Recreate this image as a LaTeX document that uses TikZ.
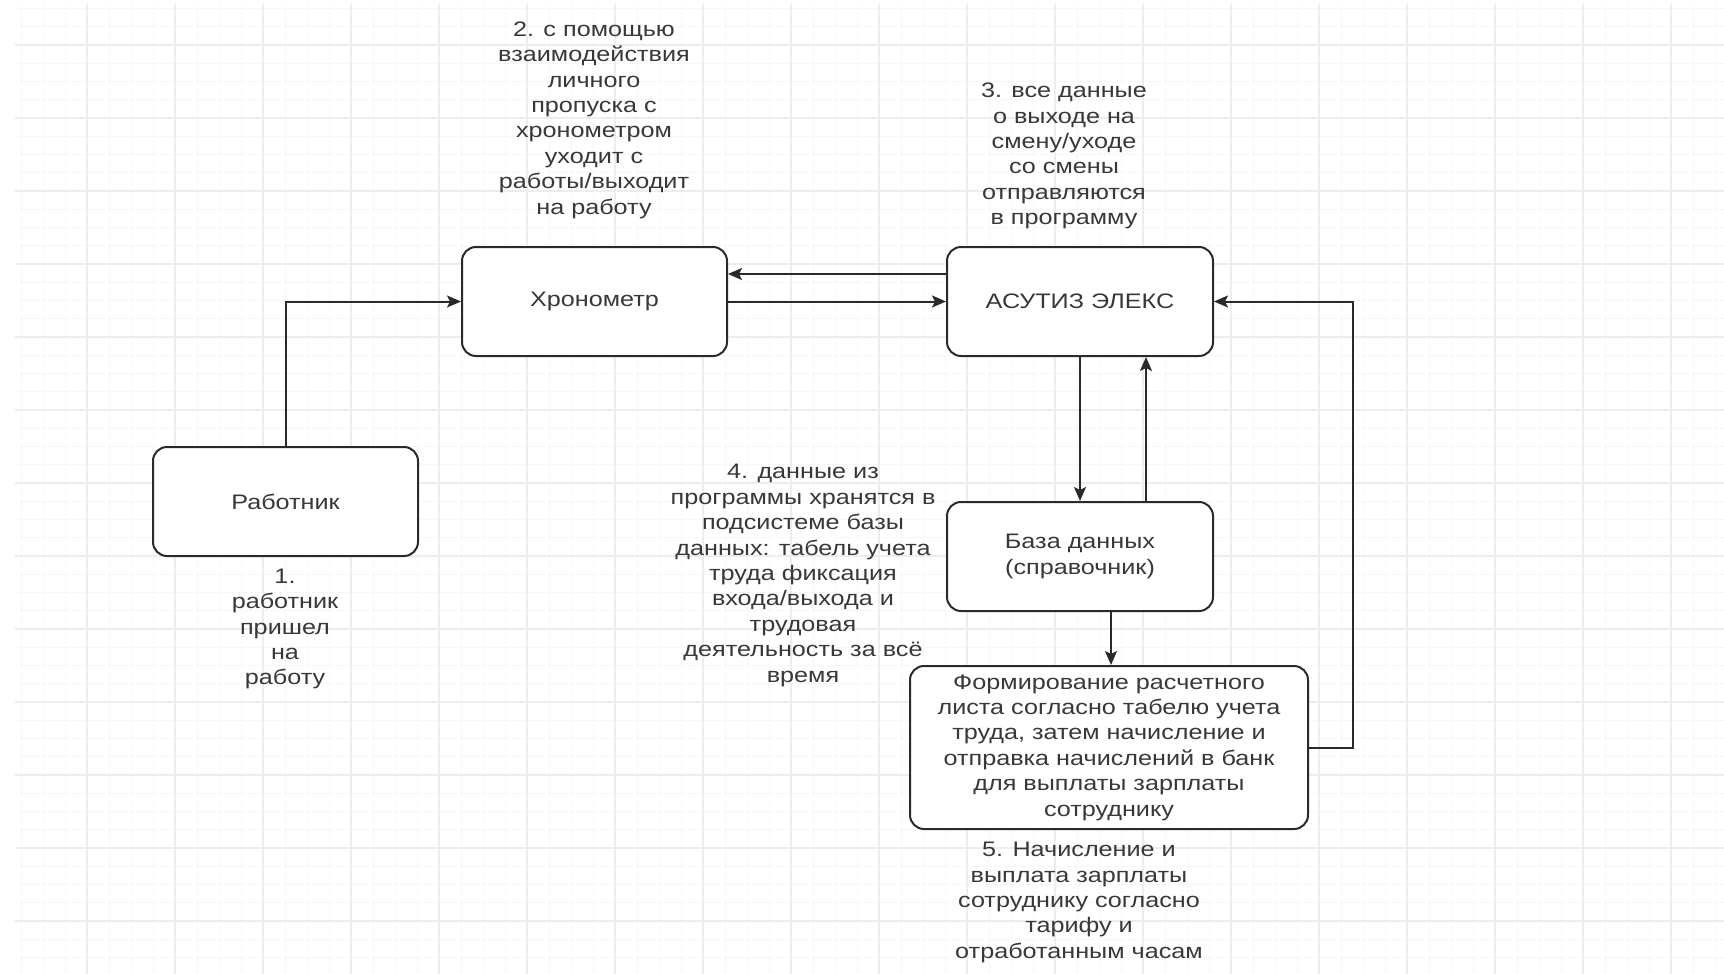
\documentclass[tikz,border=0pt]{standalone}
\usepackage{fontspec}
\setmainfont{Liberation Sans}[FakeStretch=1.2]
\usetikzlibrary{arrows.meta}
\definecolor{txt}{HTML}{383838}
\definecolor{linec}{HTML}{2A2A2A}
\definecolor{gminor}{HTML}{F7F7F7}
\definecolor{gmajor}{HTML}{EDEDED}
\tikzset{
  box/.style={draw=linec, line width=2pt, rounded corners=14pt, fill=white, text=txt, align=center, inner sep=0pt, font=\fs},
  lbl/.style={text=txt, align=center, inner sep=0pt, font=\fs},
  arr/.style={draw=linec, line width=2pt, -{Stealth[length=14pt,width=12pt,inset=3pt]}},
}
\newcommand{\fs}{\fontsize{21pt}{25.4pt}\selectfont}
\begin{document}
\begin{tikzpicture}[x=1pt,y=-1pt]
\useasboundingbox (0,0) rectangle (1724,974);
\fill[white] (0,0) rectangle (1724,974);
% grid
\begin{scope}
\clip (15,4) rectangle (1724,974);
\foreach \x in {21,43,...,1724} \draw[gminor, line width=1pt] (\x,4) -- (\x,974);
\foreach \y in {8.5,26.75,...,974} \draw[gminor, line width=1pt] (15,\y) -- (1724,\y);
\foreach \x in {87,175,...,1724} \draw[gmajor, line width=1.6pt] (\x,4) -- (\x,974);
\foreach \y in {45,118,...,974} \draw[gmajor, line width=1.6pt] (15,\y) -- (1724,\y);
\end{scope}
% boxes
\node[box, minimum width=265pt, minimum height=109pt] (khr) at (594.5,301.5) {Хронометр};
\node[box, minimum width=266pt, minimum height=109pt] (asu) at (1080,301.5) {АСУТИЗ ЭЛЕКС};
\node[box, minimum width=265pt, minimum height=109pt] (rab) at (285.5,501.5) {Работник};
\node[box, minimum width=266pt, minimum height=109pt] (baz) at (1080,556.5) {База данных\\(справочник)};
\node[box, minimum width=398pt, minimum height=163pt] (frm) at (1109,747.5) {Формирование расчетного\\листа согласно табелю учета\\труда, затем начисление и\\отправка начислений в банк\\для выплаты зарплаты\\сотруднику};
% labels
\node[lbl] (l2) at (594,120) {2. с помощью\\взаимодействия\\личного\\пропуска с\\хронометром\\уходит с\\работы/выходит\\на работу};
\node[lbl] (l3) at (1064,156) {3. все данные\\о выходе на\\смену/уходе\\со смены\\отправляются\\в программу};
\node[lbl] (l4) at (803,575.5) {4. данные из\\программы хранятся в\\подсистеме базы\\данных: табель учета\\труда фиксация\\входа/выхода и\\трудовая\\деятельность за всё\\время};
\node[lbl] (l1) at (285,629) {1.\\работник\\пришел\\на\\работу};
\node[lbl] (l5) at (1079,902.5) {5. Начисление и\\выплата зарплаты\\сотруднику согласно\\тарифу и\\отработанным часам};
% connectors
\draw[arr] (rab.north) |- (khr.west);
\draw[arr] (khr.east) -- (asu.west);
\draw[arr] ([yshift=27.5pt]asu.west) -- ([yshift=27.5pt]khr.east);
\draw[arr] (asu.south) -- (baz.north);
\draw[arr] ([xshift=66pt]baz.north) -- ([xshift=66pt]asu.south);
\draw[arr] ([xshift=31pt]baz.south) -- ([xshift=31pt]baz.south |- frm.north);
\coordinate (rt) at (1353,747.5);
\draw[arr] (frm.east) -- (rt) |- (asu.east);
\end{tikzpicture}
\end{document}
